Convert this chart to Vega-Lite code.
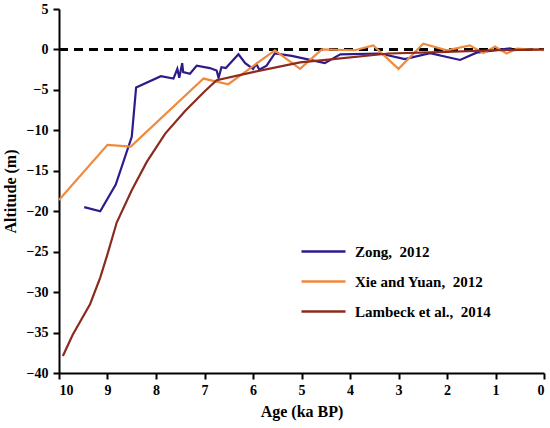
{
  "$schema": "https://vega.github.io/schema/vega-lite/v6.json",
  "autosize": {"type": "none"},
  "padding": {"left": 59, "top": 9, "right": 6, "bottom": 55},
  "width": 485,
  "height": 364,
  "background": "white",
  "config": {
    "view": {"stroke": null},
    "font": "Liberation Serif",
    "axis": {
      "grid": false,
      "domainColor": "black",
      "domainWidth": 2,
      "tickColor": "black",
      "tickWidth": 2,
      "tickSize": 6,
      "labelFont": "Liberation Serif",
      "labelFontWeight": "bold",
      "labelFontSize": 14,
      "labelColor": "black",
      "titleFont": "Liberation Serif",
      "titleFontWeight": "bold",
      "titleFontSize": 16,
      "titleColor": "black"
    }
  },
  "datasets": {
    "series": [
      {"src": "Zong,\u00a0 2012", "age": 9.48, "alt": -19.5},
      {"src": "Zong,\u00a0 2012", "age": 9.15, "alt": -20.0},
      {"src": "Zong,\u00a0 2012", "age": 8.83, "alt": -16.7},
      {"src": "Zong,\u00a0 2012", "age": 8.5, "alt": -10.8},
      {"src": "Zong,\u00a0 2012", "age": 8.41, "alt": -4.7},
      {"src": "Zong,\u00a0 2012", "age": 7.9, "alt": -3.3},
      {"src": "Zong,\u00a0 2012", "age": 7.64, "alt": -3.6},
      {"src": "Zong,\u00a0 2012", "age": 7.56, "alt": -2.4},
      {"src": "Zong,\u00a0 2012", "age": 7.52, "alt": -3.5},
      {"src": "Zong,\u00a0 2012", "age": 7.46, "alt": -1.7},
      {"src": "Zong,\u00a0 2012", "age": 7.44, "alt": -2.8},
      {"src": "Zong,\u00a0 2012", "age": 7.3, "alt": -3.0},
      {"src": "Zong,\u00a0 2012", "age": 7.16, "alt": -2.0},
      {"src": "Zong,\u00a0 2012", "age": 6.89, "alt": -2.3},
      {"src": "Zong,\u00a0 2012", "age": 6.75, "alt": -2.6},
      {"src": "Zong,\u00a0 2012", "age": 6.71, "alt": -3.5},
      {"src": "Zong,\u00a0 2012", "age": 6.65, "alt": -2.2},
      {"src": "Zong,\u00a0 2012", "age": 6.56, "alt": -2.3},
      {"src": "Zong,\u00a0 2012", "age": 6.3, "alt": -0.6},
      {"src": "Zong,\u00a0 2012", "age": 6.16, "alt": -1.7},
      {"src": "Zong,\u00a0 2012", "age": 6.0, "alt": -2.4},
      {"src": "Zong,\u00a0 2012", "age": 5.93, "alt": -1.8},
      {"src": "Zong,\u00a0 2012", "age": 5.87, "alt": -2.5},
      {"src": "Zong,\u00a0 2012", "age": 5.72, "alt": -2.0},
      {"src": "Zong,\u00a0 2012", "age": 5.55, "alt": -0.5},
      {"src": "Zong,\u00a0 2012", "age": 5.2, "alt": -0.8},
      {"src": "Zong,\u00a0 2012", "age": 4.52, "alt": -1.7},
      {"src": "Zong,\u00a0 2012", "age": 4.2, "alt": -0.6},
      {"src": "Zong,\u00a0 2012", "age": 3.38, "alt": -0.5},
      {"src": "Zong,\u00a0 2012", "age": 2.87, "alt": -1.2},
      {"src": "Zong,\u00a0 2012", "age": 2.35, "alt": -0.45},
      {"src": "Zong,\u00a0 2012", "age": 1.73, "alt": -1.3},
      {"src": "Zong,\u00a0 2012", "age": 1.39, "alt": -0.4},
      {"src": "Zong,\u00a0 2012", "age": 0.67, "alt": 0.15},
      {"src": "Xie and Yuan,\u00a0 2012", "age": 10.0, "alt": -18.6},
      {"src": "Xie and Yuan,\u00a0 2012", "age": 9.0, "alt": -11.8},
      {"src": "Xie and Yuan,\u00a0 2012", "age": 8.52, "alt": -12.0},
      {"src": "Xie and Yuan,\u00a0 2012", "age": 7.02, "alt": -3.6},
      {"src": "Xie and Yuan,\u00a0 2012", "age": 6.51, "alt": -4.3},
      {"src": "Xie and Yuan,\u00a0 2012", "age": 5.55, "alt": -0.1},
      {"src": "Xie and Yuan,\u00a0 2012", "age": 5.03, "alt": -2.4},
      {"src": "Xie and Yuan,\u00a0 2012", "age": 4.58, "alt": 0.0},
      {"src": "Xie and Yuan,\u00a0 2012", "age": 3.9, "alt": -0.1},
      {"src": "Xie and Yuan,\u00a0 2012", "age": 3.52, "alt": 0.5},
      {"src": "Xie and Yuan,\u00a0 2012", "age": 3.0, "alt": -2.4},
      {"src": "Xie and Yuan,\u00a0 2012", "age": 2.49, "alt": 0.7},
      {"src": "Xie and Yuan,\u00a0 2012", "age": 2.0, "alt": -0.1},
      {"src": "Xie and Yuan,\u00a0 2012", "age": 1.53, "alt": 0.5},
      {"src": "Xie and Yuan,\u00a0 2012", "age": 1.25, "alt": -0.45},
      {"src": "Xie and Yuan,\u00a0 2012", "age": 1.01, "alt": 0.37},
      {"src": "Xie and Yuan,\u00a0 2012", "age": 0.77, "alt": -0.5},
      {"src": "Xie and Yuan,\u00a0 2012", "age": 0.56, "alt": 0.1},
      {"src": "Xie and Yuan,\u00a0 2012", "age": 0.0, "alt": -0.1},
      {"src": "Lambeck et al.,\u00a0 2014", "age": 9.92, "alt": -37.9},
      {"src": "Lambeck et al.,\u00a0 2014", "age": 9.72, "alt": -35.3},
      {"src": "Lambeck et al.,\u00a0 2014", "age": 9.53, "alt": -33.3},
      {"src": "Lambeck et al.,\u00a0 2014", "age": 9.36, "alt": -31.5},
      {"src": "Lambeck et al.,\u00a0 2014", "age": 9.15, "alt": -28.2},
      {"src": "Lambeck et al.,\u00a0 2014", "age": 9.0, "alt": -25.3},
      {"src": "Lambeck et al.,\u00a0 2014", "age": 8.81, "alt": -21.4},
      {"src": "Lambeck et al.,\u00a0 2014", "age": 8.5, "alt": -17.4},
      {"src": "Lambeck et al.,\u00a0 2014", "age": 8.19, "alt": -13.9},
      {"src": "Lambeck et al.,\u00a0 2014", "age": 7.81, "alt": -10.4},
      {"src": "Lambeck et al.,\u00a0 2014", "age": 7.4, "alt": -7.6},
      {"src": "Lambeck et al.,\u00a0 2014", "age": 7.0, "alt": -5.2},
      {"src": "Lambeck et al.,\u00a0 2014", "age": 6.75, "alt": -3.8},
      {"src": "Lambeck et al.,\u00a0 2014", "age": 6.0, "alt": -2.8},
      {"src": "Lambeck et al.,\u00a0 2014", "age": 5.03, "alt": -1.6},
      {"src": "Lambeck et al.,\u00a0 2014", "age": 4.5, "alt": -1.3},
      {"src": "Lambeck et al.,\u00a0 2014", "age": 3.2, "alt": -0.5},
      {"src": "Lambeck et al.,\u00a0 2014", "age": 2.0, "alt": -0.3},
      {"src": "Lambeck et al.,\u00a0 2014", "age": 1.0, "alt": -0.1},
      {"src": "Lambeck et al.,\u00a0 2014", "age": 0.0, "alt": 0.0}
    ],
    "zero": [{"a": 10, "b": 0}, {"a": 0, "b": 0}]
  },
  "layer": [
    {
      "data": {"name": "zero"},
      "mark": {"type": "line", "color": "black", "strokeWidth": 3, "strokeDash": [9, 6]},
      "encoding": {
        "x": {"field": "a", "type": "quantitative"},
        "y": {"field": "b", "type": "quantitative"}
      }
    },
    {
      "data": {"name": "series"},
      "mark": {"type": "line", "strokeWidth": 2.2},
      "encoding": {
        "x": {
          "field": "age", "type": "quantitative",
          "scale": {"domain": [0, 10], "reverse": true, "nice": false},
          "axis": {"values": [0,1,2,3,4,5,6,7,8,9,10], "title": "Age (ka BP)", "labelPadding": 4, "titlePadding": 6}
        },
        "y": {
          "field": "alt", "type": "quantitative",
          "scale": {"domain": [-40, 5], "nice": false, "zero": false},
          "axis": {"values": [-40,-35,-30,-25,-20,-15,-10,-5,0,5], "title": "Altitude (m)", "labelPadding": 5, "titlePadding": 8}
        },
        "color": {
          "field": "src", "type": "nominal",
          "scale": {
            "domain": ["Zong,\u00a0 2012", "Xie and Yuan,\u00a0 2012", "Lambeck et al.,\u00a0 2014"],
            "range": ["#2E1A8A", "#F08A3C", "#8B2A1E"]
          },
          "legend": {
            "title": null,
            "orient": "none",
            "legendX": 253,
            "legendY": 231,
            "symbolType": "M-2.2,0H2.2",
            "symbolSize": 400,
            "symbolStrokeWidth": 2.5,
            "symbolFillColor": "transparent",
            "labelFont": "Liberation Serif",
            "labelFontWeight": "bold",
            "labelFontSize": 15,
            "labelColor": "black",
            "labelOffset": 20,
            "rowPadding": 10,
            "labelLimit": 300
          }
        }
      }
    }
  ]
}
